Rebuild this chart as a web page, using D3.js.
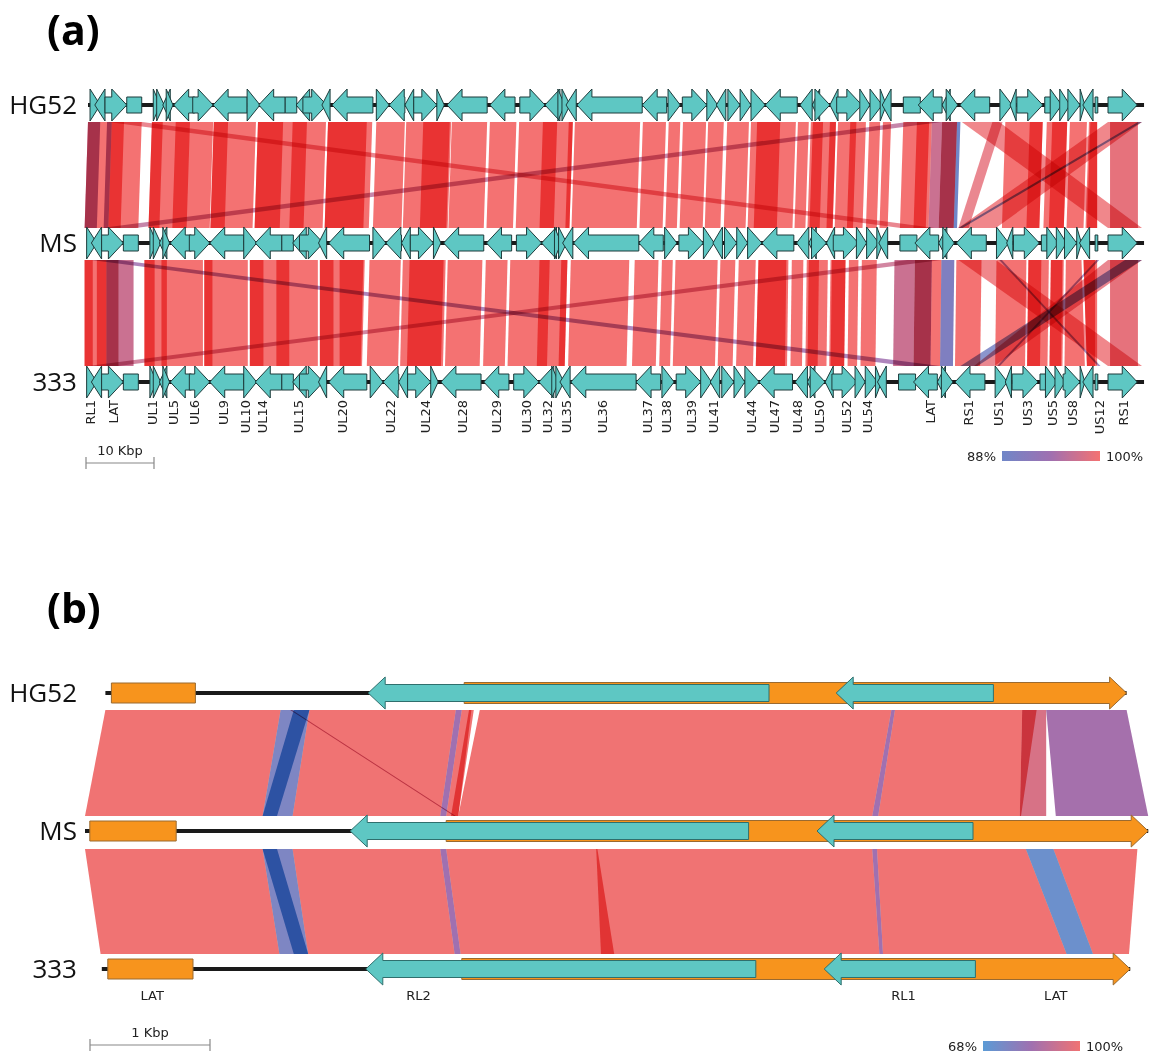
<!DOCTYPE html>
<html>
<head>
<meta charset="utf-8">
<script src="https://cdn.jsdelivr.net/npm/d3@7"></script>
<style>
  body { margin: 0; background: #fff; }
  text { font-family: "DejaVu Sans", sans-serif; fill: #222; }
</style>
</head>
<body>
<svg id="chart" width="1151" height="1053"></svg>
<script>
// ---------- panel (a) data : whole genomes, kbp ----------
var genomesA = ['HG52', 'MS', '333'];

// genes in HG52 coordinates [start, end, strand] (0 = plain box)
var genesA = [
  [0.3, 1.8, 1], [1.0, 2.5, -1], [2.5, 5.7, 1], [5.7, 7.9, 0],
  [9.6, 10.6, 1], [10.1, 11.2, 1], [11.0, 12.1, -1], [11.5, 12.5, 1],
  [12.6, 15.7, -1], [15.4, 18.4, 1], [18.4, 23.4, -1], [23.4, 25.3, 1],
  [25.1, 29.0, -1], [29.0, 30.7, 0], [30.6, 32.6, -1], [31.6, 35.1, 1],
  [34.4, 35.6, -1], [35.9, 41.9, -1], [42.4, 44.3, 1], [44.3, 46.6, -1],
  [46.6, 47.9, -1], [47.9, 51.3, 1], [51.3, 52.4, 1], [52.8, 58.7, -1],
  [59.1, 62.8, -1], [63.5, 67.2, 1], [67.2, 69.4, -1], [69.1, 70.1, 1],
  [69.7, 70.9, 1], [70.3, 71.8, -1], [71.9, 81.5, -1], [81.5, 85.1, -1],
  [85.3, 87.1, 1], [87.4, 91.0, 1], [91.0, 92.6, 1], [92.4, 93.8, -1],
  [94.1, 95.9, 1], [95.9, 97.5, 1], [97.5, 99.6, 1], [99.6, 104.3, -1],
  [104.7, 106.5, -1], [106.5, 107.6, -1], [106.9, 109.1, 1], [109.1, 110.3, -1],
  [110.1, 113.8, 1], [113.5, 115.0, 1], [115.0, 116.8, 1], [116.5, 117.4, 1],
  [116.8, 118.1, -1], [119.9, 122.4, 0], [122.1, 125.6, -1], [125.6, 126.8, -1],
  [126.2, 127.9, 1], [128.2, 132.6, -1], [134.1, 135.9, 1], [135.6, 136.5, -1],
  [136.6, 140.4, 1], [140.7, 141.8, 0], [141.5, 143.2, 1], [142.9, 144.4, 1],
  [144.1, 145.9, 1], [145.9, 146.6, 1], [146.3, 147.8, -1], [148.1, 148.5, 0],
  [150.0, 154.3, 1]
];

// indel shifts of each genome against HG52 [from kbp, shift kbp]
var shiftHG52 = [[0, 0]];
var shiftMS = [[0, -0.5], [148, 0]];
var shift333 = [[0, -0.5], [40, -0.9], [100, -0.7], [145, 0]];

var genomeLenA = 155.3;

var geneLabelsA = [
  ['RL1', 0.3], ['LAT', 3.7], ['UL1', 9.4], ['UL5', 12.5], ['UL6', 15.7],
  ['UL9', 19.9], ['UL10', 23.1], ['UL14', 25.7], ['UL15', 30.9], ['UL20', 37.4],
  ['UL22', 44.4], ['UL24', 49.6], ['UL28', 55.0], ['UL29', 60.0], ['UL30', 64.4],
  ['UL32', 67.5], ['UL35', 70.3], ['UL36', 75.6], ['UL37', 82.2], ['UL38', 85.1],
  ['UL39', 88.7], ['UL41', 91.9], ['UL44', 97.5], ['UL47', 100.9], ['UL48', 104.3],
  ['UL50', 107.5], ['UL52', 111.5], ['UL54', 114.6], ['LAT', 123.8], ['RS1', 129.4],
  ['US1', 133.8], ['US3', 138.1], ['US5', 141.8], ['US8', 144.7], ['US12', 148.7],
  ['RS1', 152.2]
];

// collinear hits [start, end, identity] (HG52 coords)
var hitsHG52MS = [
  [0, 7.9, 100], [0, 1.8, 95], [2.8, 3.5, 95], [3.5, 5.3, 100],
  [9.4, 18.4, 100], [9.4, 11.0, 100], [12.9, 15.0, 100],
  [18.5, 24.7, 100], [18.5, 20.6, 100],
  [25.0, 35.0, 100], [25.0, 28.7, 100], [30.1, 32.2, 100],
  [35.3, 41.8, 100], [35.3, 41.0, 100],
  [42.4, 46.6, 100],
  [46.8, 53.4, 100], [49.3, 53.2, 100],
  [53.5, 58.7, 100], [59.1, 63.0, 100],
  [63.4, 71.3, 100], [66.9, 69.0, 100], [70.7, 71.3, 100],
  [71.6, 81.2, 100],
  [81.6, 85.0, 100], [85.4, 87.1, 100], [87.5, 90.9, 100], [91.2, 93.5, 100], [94.0, 97.2, 100],
  [97.5, 104.1, 100], [98.4, 101.8, 100],
  [104.4, 106.0, 100],
  [106.3, 110.0, 100], [106.6, 108.1, 100], [109.1, 110.0, 100],
  [110.3, 114.4, 100], [112.1, 113.0, 100],
  [114.9, 116.5, 100], [116.9, 118.1, 100],
  [119.9, 124.1, 100], [121.9, 123.7, 100],
  [124.1, 125.6, 97],
  [125.6, 127.8, 100], [125.6, 127.8, 95],
  [127.8, 128.3, 88],
  [134.9, 140.4, 100], [138.5, 140.4, 100],
  [141.0, 144.0, 100], [141.8, 144.0, 100],
  [144.4, 146.9, 100],
  [147.2, 148.4, 100], [147.4, 148.4, 100],
  [150.3, 154.4, 99]
];
// repeat hits [top start, top end, bottom start, bottom end, identity]
var repeatsHG52MS = [
  [3.0, 8.0, 120.0, 125.0, 99],
  [120.5, 125.5, 2.5, 7.5, 96],
  [128.5, 134.0, 150.0, 155.0, 99.5],
  [150.0, 155.0, 128.5, 134.0, 99.5],
  [133.0, 134.5, 128.5, 130.0, 99],
  [154.4, 155.0, 128.5, 129.1, 88]
];

var hitsMS333 = [
  [0, 5.0, 100], [0, 1.2, 100], [1.8, 3.2, 100], [3.2, 5.0, 95],
  [5.0, 7.2, 97],
  [8.8, 17.4, 100], [8.8, 10.3, 100], [11.3, 12.1, 100],
  [17.6, 24.0, 100], [17.6, 18.8, 100],
  [24.3, 34.3, 100], [24.3, 26.3, 100], [28.2, 30.1, 100],
  [34.6, 41.2, 100], [34.6, 36.6, 100], [37.5, 41.0, 100],
  [41.9, 46.5, 100],
  [46.8, 53.1, 100], [47.8, 52.8, 100],
  [53.4, 58.5, 100], [59.0, 62.2, 100],
  [62.6, 71.0, 100], [66.9, 68.4, 100], [70.1, 71.0, 100],
  [71.5, 80.1, 100],
  [80.9, 84.4, 100], [84.9, 86.5, 100], [86.9, 93.1, 100], [93.5, 95.7, 100], [96.2, 98.7, 100],
  [99.1, 103.5, 100], [99.1, 103.2, 100],
  [104.0, 105.7, 100],
  [106.2, 109.3, 100], [106.5, 108.0, 100],
  [109.7, 111.9, 100], [109.9, 111.9, 100],
  [112.4, 113.8, 100], [114.3, 116.5, 100],
  [119.1, 122.1, 97],
  [122.1, 124.6, 100], [122.1, 124.6, 95],
  [124.6, 126.0, 100],
  [126.0, 127.9, 90],
  [128.2, 131.9, 100],
  [134.1, 138.5, 100], [138.8, 141.8, 100], [138.8, 140.7, 100],
  [142.1, 144.0, 100], [142.1, 143.8, 100], [144.3, 146.6, 100],
  [146.9, 148.4, 100], [146.9, 148.1, 100],
  [150.3, 154.4, 99]
];
var repeatsMS333 = [
  [1.0, 5.0, 121.0, 126.0, 94],
  [121.0, 126.0, 0.5, 5.0, 97],
  [128.5, 134.0, 150.0, 155.0, 99.5],
  [150.0, 155.0, 131.0, 134.0, 99],
  [152.5, 155.0, 129.0, 131.5, 89],
  [134.5, 134.9, 148.5, 148.9, 92],
  [148.3, 148.7, 134.4, 134.8, 92]
];

// ---------- panel (b) data : LAT region, kbp along the drawing ----------
var genomesB = ['HG52', 'MS', '333'];
var spanB = [[0.17, 8.68], [0, 8.86], [0.14, 8.71]];
var latBoxB = [[0.22, 0.92], [0.04, 0.76], [0.19, 0.90]];
var latArrowB = [[3.16, 8.68], [3.01, 8.86], [3.14, 8.71]];
var rl2B = [[2.36, 5.70], [2.21, 5.53], [2.34, 5.59]];
var rl1B = [[6.26, 7.57], [6.10, 7.40], [6.16, 7.42]];
var geneLabelsB = [['LAT', 0.56], ['RL2', 2.78], ['RL1', 6.82], ['LAT', 8.09]];

var hitsBTop = [
  [0.17, 1.63, 0, 1.48, 100],
  [1.63, 1.87, 1.48, 1.73, 76],
  [1.74, 1.87, 1.48, 1.60, 68],
  [1.87, 3.09, 1.73, 2.96, 100],
  [1.71, 1.725, 3.075, 3.09, 92],
  [3.09, 3.14, 2.96, 3.01, 84],
  [3.14, 3.24, 3.01, 3.11, 100],
  [3.20, 3.22, 3.05, 3.11, 100],
  [3.29, 6.72, 3.11, 6.56, 100],
  [6.72, 6.75, 6.56, 6.61, 84],
  [6.75, 7.81, 6.61, 7.79, 100],
  [7.81, 8.01, 7.79, 8.01, 95],
  [7.81, 7.93, 7.79, 7.80, 100],
  [8.01, 8.68, 8.09, 8.86, 85]
];
var hitsBBottom = [
  [0, 1.48, 0.13, 1.62, 100],
  [1.48, 1.73, 1.62, 1.86, 76],
  [1.48, 1.60, 1.74, 1.86, 68],
  [1.73, 2.96, 1.86, 3.08, 100],
  [2.96, 3.01, 3.08, 3.13, 84],
  [3.01, 4.27, 3.13, 4.41, 100],
  [4.26, 6.56, 4.30, 6.62, 100],
  [6.56, 6.60, 6.62, 6.65, 84],
  [6.60, 7.84, 6.65, 8.18, 100],
  [7.84, 8.07, 8.18, 8.40, 72],
  [8.07, 8.77, 8.40, 8.70, 100]
];

// ---------- drawing ----------
var svg = d3.select('#chart');

var xa = d3.scaleLinear().domain([0, 155]).range([88, 1142]);
var xb = d3.scaleLinear().domain([0, 8.9]).range([85, 1153]);
var colorA = d3.scaleLinear().domain([88, 94, 100]).range(['#6f86c8', '#a070b0', '#f47272']);
var colorB = d3.scaleLinear().domain([68, 84, 100]).range(['#5b9bd5', '#a070b0', '#f07373']);

function shiftAt(shifts, pos) {
  var s = 0;
  shifts.forEach(function(d) { if (pos >= d[0]) s = d[1]; });
  return s;
}

function genePath(x0, x1, strand, y, bodyH, headH, headL) {
  if (strand === 0) {
    return 'M' + x0 + ',' + (y - bodyH) + 'H' + x1 + 'V' + (y + bodyH) + 'H' + x0 + 'Z';
  }
  var h = Math.min(headL, x1 - x0);
  if (strand > 0) {
    var xh = x1 - h;
    return 'M' + x0 + ',' + (y - bodyH) + 'L' + xh + ',' + (y - bodyH) + 'L' + xh + ',' + (y - headH) +
      'L' + x1 + ',' + y + 'L' + xh + ',' + (y + headH) + 'L' + xh + ',' + (y + bodyH) + 'L' + x0 + ',' + (y + bodyH) + 'Z';
  }
  var xl = x0 + h;
  return 'M' + x1 + ',' + (y - bodyH) + 'L' + xl + ',' + (y - bodyH) + 'L' + xl + ',' + (y - headH) +
    'L' + x0 + ',' + y + 'L' + xl + ',' + (y + headH) + 'L' + xl + ',' + (y + bodyH) + 'L' + x1 + ',' + (y + bodyH) + 'Z';
}

function ribbonPath(t0, t1, b0, b1, yTop, yBot) {
  return 'M' + t0 + ',' + yTop + 'L' + t1 + ',' + yTop + 'L' + b1 + ',' + yBot + 'L' + b0 + ',' + yBot + 'Z';
}

// ----- panel (a) -----
svg.append('text').attr('x', 47).attr('y', 45)
  .style('font-family', '"Open Sans", sans-serif').style('font-weight', 700)
  .style('font-size', '41px').style('fill', '#000').text('(a)');

var trackYA = [105, 243, 382];
var shiftsA = [shiftHG52, shiftMS, shift333];

function drawHitsA(hits, repeats, topShift, botShift, yTop, yBot) {
  var g = svg.append('g');
  hits.forEach(function(d) {
    g.append('path')
      .attr('d', ribbonPath(
        xa(d[0] + shiftAt(topShift, d[0])), xa(d[1] + shiftAt(topShift, d[1])),
        xa(d[0] + shiftAt(botShift, d[0])), xa(d[1] + shiftAt(botShift, d[1])), yTop, yBot))
      .attr('fill', colorA(d[2]))
      .style('mix-blend-mode', 'multiply');
  });
  repeats.forEach(function(d) {
    g.append('path')
      .attr('d', ribbonPath(
        xa(d[0] + shiftAt(topShift, d[0])), xa(d[1] + shiftAt(topShift, d[1])),
        xa(d[2] + shiftAt(botShift, d[2])), xa(d[3] + shiftAt(botShift, d[3])), yTop, yBot))
      .attr('fill', colorA(d[4]))
      .attr('fill-opacity', 0.85)
      .style('mix-blend-mode', 'multiply');
  });
}
drawHitsA(hitsHG52MS, repeatsHG52MS, shiftHG52, shiftMS, trackYA[0] + 17, trackYA[1] - 15);
drawHitsA(hitsMS333, repeatsMS333, shiftMS, shift333, trackYA[1] + 17, trackYA[2] - 16);

genomesA.forEach(function(name, i) {
  var y = trackYA[i];
  var sh = shiftsA[i];
  svg.append('text').attr('x', 77).attr('y', y).attr('dy', '0.36em')
    .attr('text-anchor', 'end')
    .style('font-family', '"Open Sans", sans-serif').style('font-size', '26px').style('fill', '#111')
    .text(name);
  svg.append('line')
    .attr('x1', xa(0)).attr('x2', xa(genomeLenA + shiftAt(sh, genomeLenA)))
    .attr('y1', y).attr('y2', y)
    .attr('stroke', '#1a1a1a').attr('stroke-width', 4);
  svg.append('g').selectAll('path')
    .data(genesA)
    .enter()
    .append('path')
    .attr('d', function(d) {
      return genePath(xa(d[0] + shiftAt(sh, d[0])), xa(d[1] + shiftAt(sh, d[1])), d[2], y, 8, 16, 15);
    })
    .attr('fill', '#5ec7c3')
    .attr('stroke', '#1d3b3b')
    .attr('stroke-width', 1)
    .attr('stroke-linejoin', 'miter');
});

svg.append('g').selectAll('text')
  .data(geneLabelsA)
  .enter()
  .append('text')
  .attr('transform', function(d) { return 'translate(' + xa(d[1]) + ',400) rotate(-90)'; })
  .attr('text-anchor', 'end')
  .attr('dy', '0.36em')
  .style('font-size', '13px')
  .text(function(d) { return d[0]; });

// scale bar (a)
var sbA = svg.append('g').attr('stroke', '#888').attr('stroke-width', 1.2);
sbA.append('line').attr('x1', xa(0) - 2).attr('x2', xa(10) - 2).attr('y1', 463).attr('y2', 463);
sbA.append('line').attr('x1', xa(0) - 2).attr('x2', xa(0) - 2).attr('y1', 457).attr('y2', 469);
sbA.append('line').attr('x1', xa(10) - 2).attr('x2', xa(10) - 2).attr('y1', 457).attr('y2', 469);
svg.append('text').attr('x', (xa(0) + xa(10)) / 2 - 2).attr('y', 455).attr('text-anchor', 'middle')
  .style('font-size', '13px').text('10 Kbp');

// ----- panel (b) -----
svg.append('text').attr('x', 47).attr('y', 623)
  .style('font-family', '"Open Sans", sans-serif').style('font-weight', 700)
  .style('font-size', '41px').style('fill', '#000').text('(b)');

var trackYB = [693, 831, 969];

function drawHitsB(hits, yTop, yBot) {
  var g = svg.append('g');
  hits.forEach(function(d) {
    g.append('path')
      .attr('d', ribbonPath(xb(d[0]), xb(d[1]), xb(d[2]), xb(d[3]), yTop, yBot))
      .attr('fill', colorB(d[4]))
      .style('mix-blend-mode', 'multiply');
  });
}
drawHitsB(hitsBTop, trackYB[0] + 17, trackYB[1] - 15);
drawHitsB(hitsBBottom, trackYB[1] + 18, trackYB[2] - 15);

genomesB.forEach(function(name, i) {
  var y = trackYB[i];
  svg.append('text').attr('x', 77).attr('y', y).attr('dy', '0.36em')
    .attr('text-anchor', 'end')
    .style('font-family', '"Open Sans", sans-serif').style('font-size', '26px').style('fill', '#111')
    .text(name);
  svg.append('line')
    .attr('x1', xb(spanB[i][0])).attr('x2', xb(spanB[i][1]))
    .attr('y1', y).attr('y2', y)
    .attr('stroke', '#1a1a1a').attr('stroke-width', 4);
  svg.append('path')
    .attr('d', genePath(xb(latBoxB[i][0]), xb(latBoxB[i][1]), 0, y, 10, 10, 0))
    .attr('fill', '#f7941d').attr('stroke', '#9a6a30').attr('stroke-width', 1);
  svg.append('path')
    .attr('d', genePath(xb(latArrowB[i][0]), xb(latArrowB[i][1]), 1, y, 10.5, 16, 17))
    .attr('fill', '#f7941d').attr('stroke', '#9a6a30').attr('stroke-width', 1);
  [rl2B[i], rl1B[i]].forEach(function(r) {
    svg.append('path')
      .attr('d', genePath(xb(r[0]), xb(r[1]), -1, y, 8.5, 16, 17))
      .attr('fill', '#5ec7c3').attr('stroke', '#2f6f6d').attr('stroke-width', 1);
  });
});

svg.append('g').selectAll('text')
  .data(geneLabelsB)
  .enter()
  .append('text')
  .attr('x', function(d) { return xb(d[1]); })
  .attr('y', 1000)
  .attr('text-anchor', 'middle')
  .style('font-size', '13px')
  .text(function(d) { return d[0]; });

// scale bar (b)
var sbB = svg.append('g').attr('stroke', '#888').attr('stroke-width', 1.2);
sbB.append('line').attr('x1', xb(0) + 5).attr('x2', xb(1) + 5).attr('y1', 1045).attr('y2', 1045);
sbB.append('line').attr('x1', xb(0) + 5).attr('x2', xb(0) + 5).attr('y1', 1039).attr('y2', 1051);
sbB.append('line').attr('x1', xb(1) + 5).attr('x2', xb(1) + 5).attr('y1', 1039).attr('y2', 1051);
svg.append('text').attr('x', (xb(0) + xb(1)) / 2 + 5).attr('y', 1037).attr('text-anchor', 'middle')
  .style('font-size', '13px').text('1 Kbp');

// ----- legends -----
var defs = svg.append('defs');
function legend(id, scale, lo, x0, x1, y, loLabel) {
  var grad = defs.append('linearGradient').attr('id', id);
  d3.range(0, 1.0001, 0.1).forEach(function(t) {
    grad.append('stop').attr('offset', t).attr('stop-color', scale(lo + t * (100 - lo)));
  });
  svg.append('rect').attr('x', x0).attr('y', y - 5).attr('width', x1 - x0).attr('height', 10)
    .attr('fill', 'url(#' + id + ')');
  svg.append('text').attr('x', x0 - 6).attr('y', y).attr('dy', '0.36em').attr('text-anchor', 'end')
    .style('font-size', '13px').text(loLabel);
  svg.append('text').attr('x', x1 + 6).attr('y', y).attr('dy', '0.36em')
    .style('font-size', '13px').text('100%');
}
legend('gradA', colorA, 88, 1002, 1100, 456, '88%');
legend('gradB', colorB, 68, 983, 1080, 1046, '68%');
</script>
</body>
</html>
